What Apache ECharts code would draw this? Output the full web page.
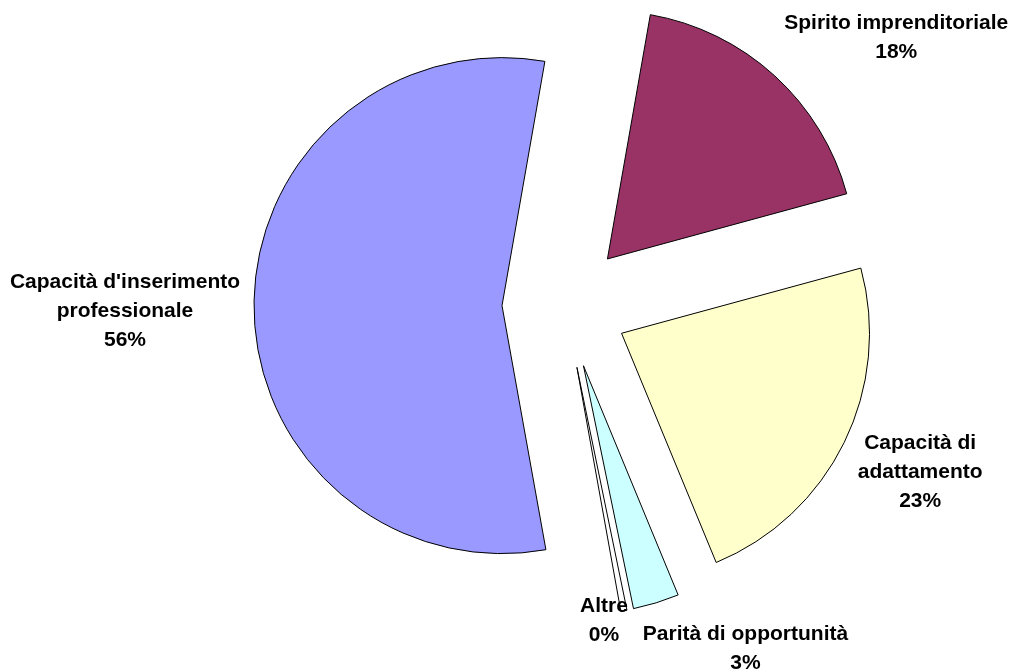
<!DOCTYPE html>
<html>
<head>
<meta charset="utf-8">
<script src="https://cdn.jsdelivr.net/npm/echarts@6/dist/echarts.min.js"></script>
<style>
html,body{margin:0;padding:0;background:#fff;}
#chart{width:1015px;height:672px;}
</style>
</head>
<body>
<div id="chart"></div>
<script>
// Data
const categories = ["Capacità d'inserimento\nprofessionale", "Spirito imprenditoriale", "Capacità di\nadattamento", "Parità di opportunità", "Altre"];
const values = [55.6, 18.0, 23.0, 3.0, 0.4];
const colors = ['#9999FF', '#993366', '#FFFFCC', '#CCFFFF', '#FFFFFF'];

// Label placement tuning (radial length, then shift)
const labelLen = [129, 50, 68, 49, 11];
const labelShift = [[0, 5], [88, -1], [15, 0], [75, -1], [-22, -1]];

const chart = echarts.init(document.getElementById('chart'), null, {renderer: 'canvas'});
chart.setOption({
  animation: false,
  backgroundColor: '#ffffff',
  series: [{
    type: 'pie',
    center: [565, 305.5],
    radius: 248,
    startAngle: -79.8,
    clockwise: true,
    avoidLabelOverlap: false,
    selectedMode: 'multiple',
    selectedOffset: 63,
    percentPrecision: 0,
    emphasis: {disabled: true},
    itemStyle: {borderColor: '#000000', borderWidth: 1},
    label: {
      show: true,
      position: 'outside',
      formatter: '{b}\n{d}%',
      fontFamily: 'Liberation Sans, Arial, sans-serif',
      fontWeight: 'bold',
      fontSize: 21,
      lineHeight: 29,
      color: '#000000',
      distanceToLabelLine: 0
    },
    labelLine: {show: false, length2: 0},
    labelLayout: function (p) {
      const s = labelShift[p.dataIndex];
      return {align: 'center', dx: s[0], dy: s[1]};
    },
    data: categories.map(function (c, i) {
      return {
        name: c,
        value: values[i],
        selected: true,
        itemStyle: {color: colors[i]},
        labelLine: {show: false, length: labelLen[i], length2: 0}
      };
    })
  }]
});
</script>
</body>
</html>
